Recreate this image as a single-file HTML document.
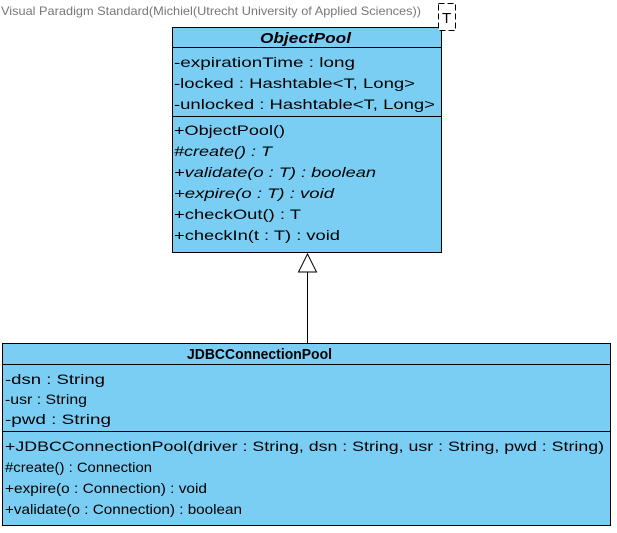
<!DOCTYPE html>
<html><head><meta charset="utf-8"><style>
html,body{margin:0;padding:0;background:#fff;width:617px;height:533px;overflow:hidden}
text{font-family:"Liberation Sans",sans-serif;font-size:14px;fill:#000}
</style></head><body>
<svg width="617" height="533" xmlns="http://www.w3.org/2000/svg">
<text x="1" y="15" style="font-size:12px;fill:#777" textLength="420" lengthAdjust="spacingAndGlyphs">Visual Paradigm Standard(Michiel(Utrecht University of Applied Sciences))</text>
<rect x="172.5" y="27.5" width="269" height="225" fill="#7acef4" stroke="#000" stroke-width="1"/>
<line x1="172" y1="47.5" x2="442" y2="47.5" stroke="#000"/>
<line x1="172" y1="116.5" x2="442" y2="116.5" stroke="#000"/>
<rect x="438.5" y="3.5" width="17" height="27" fill="#fff" stroke="#000" stroke-dasharray="6,3"/>
<text x="442" y="23" style="font-size:15px">T</text>
<text x="260" y="43" style="font-weight:bold;font-style:italic;font-size:15px" textLength="91" lengthAdjust="spacingAndGlyphs">ObjectPool</text>
<text x="174" y="67" textLength="181" lengthAdjust="spacingAndGlyphs">-expirationTime : long</text>
<text x="174" y="88" textLength="241" lengthAdjust="spacingAndGlyphs">-locked : Hashtable&lt;T, Long&gt;</text>
<text x="174" y="109" textLength="261" lengthAdjust="spacingAndGlyphs">-unlocked : Hashtable&lt;T, Long&gt;</text>
<text x="174" y="135" textLength="111" lengthAdjust="spacingAndGlyphs">+ObjectPool()</text>
<text x="174" y="156" style="font-style:italic" textLength="98" lengthAdjust="spacingAndGlyphs">#create() : T</text>
<text x="174" y="177" style="font-style:italic" textLength="202" lengthAdjust="spacingAndGlyphs">+validate(o : T) : boolean</text>
<text x="174" y="198" style="font-style:italic" textLength="160" lengthAdjust="spacingAndGlyphs">+expire(o : T) : void</text>
<text x="174" y="219" textLength="127" lengthAdjust="spacingAndGlyphs">+checkOut() : T</text>
<text x="174" y="240" textLength="166" lengthAdjust="spacingAndGlyphs">+checkIn(t : T) : void</text>
<line x1="307.5" y1="272" x2="307.5" y2="343" stroke="#000"/>
<polygon points="307.5,254 298.5,272 316.5,272" fill="#fff" stroke="#000"/>
<rect x="2.5" y="343.5" width="608" height="182" fill="#7acef4" stroke="#000"/>
<line x1="2" y1="364.5" x2="611" y2="364.5" stroke="#000"/>
<line x1="2" y1="431.5" x2="611" y2="431.5" stroke="#000"/>
<text x="187" y="359" style="font-weight:bold;font-size:15px" textLength="145" lengthAdjust="spacingAndGlyphs">JDBCConnectionPool</text>
<text x="5" y="384" textLength="100" lengthAdjust="spacingAndGlyphs">-dsn : String</text>
<text x="5" y="404" textLength="82" lengthAdjust="spacingAndGlyphs">-usr : String</text>
<text x="5" y="424" textLength="106" lengthAdjust="spacingAndGlyphs">-pwd : String</text>
<text x="5" y="451" textLength="599" lengthAdjust="spacingAndGlyphs">+JDBCConnectionPool(driver : String, dsn : String, usr : String, pwd : String)</text>
<text x="5" y="472" textLength="147" lengthAdjust="spacingAndGlyphs">#create() : Connection</text>
<text x="5" y="493" textLength="202" lengthAdjust="spacingAndGlyphs">+expire(o : Connection) : void</text>
<text x="5" y="514" textLength="237" lengthAdjust="spacingAndGlyphs">+validate(o : Connection) : boolean</text>
</svg>
</body></html>
